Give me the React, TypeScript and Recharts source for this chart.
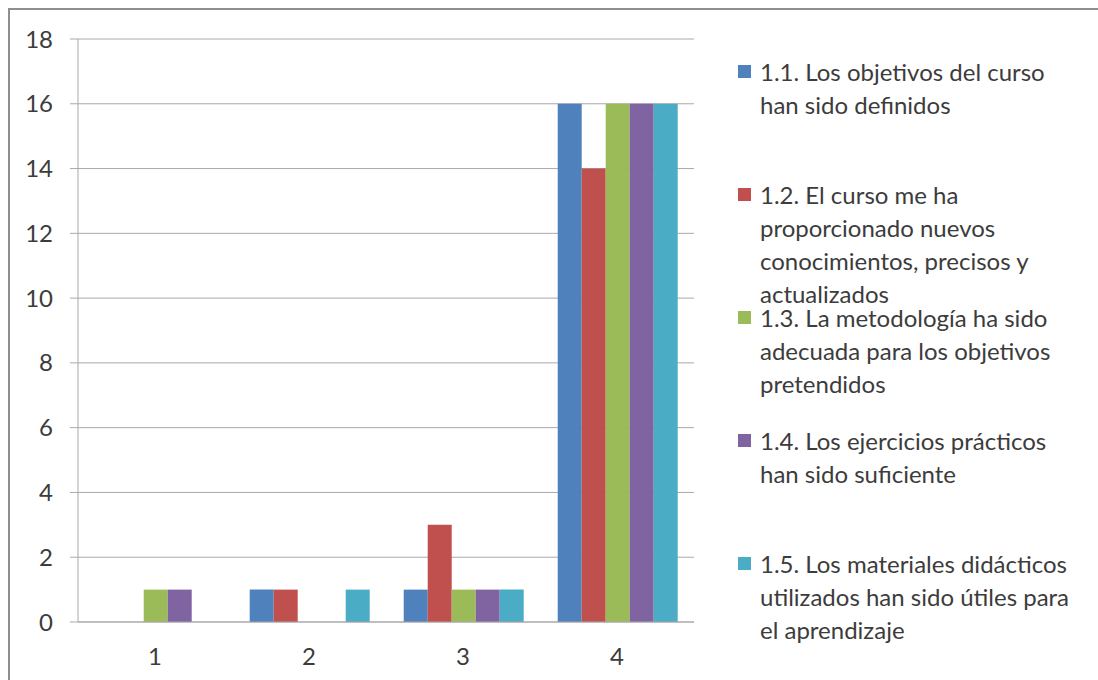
import { Bar, BarChart, CartesianGrid, Legend, XAxis, YAxis } from "recharts";

const categories = ["1", "2", "3", "4"];
const seriesNames = [
  "1.1. Los objetivos del curso\nhan sido definidos",
  "1.2. El curso me ha\nproporcionado nuevos\nconocimientos, precisos y\nactualizados",
  "1.3. La metodología ha sido\nadecuada para los objetivos\npretendidos",
  "1.4. Los ejercicios prácticos\nhan sido suficiente",
  "1.5. Los materiales didácticos\nutilizados han sido útiles para\nel aprendizaje",
];
const objetivos = [0, 1, 1, 16];
const conocimientos = [0, 1, 3, 14];
const metodologia = [1, 0, 1, 16];
const ejercicios = [1, 0, 1, 16];
const materiales = [0, 1, 1, 16];
const yTicks = [0, 2, 4, 6, 8, 10, 12, 14, 16, 18];
const colors = ["#4F81BD", "#C0504D", "#9BBB59", "#8064A2", "#4BACC6"];

const keys = ["s1", "s2", "s3", "s4", "s5"];
const data = categories.map((label, i) => ({
  label,
  s1: objetivos[i],
  s2: conocimientos[i],
  s3: metodologia[i],
  s4: ejercicios[i],
  s5: materiales[i],
}));

const FONT = "Lato, 'Open Sans', sans-serif";
const TEXT = "#3c3c3c";
const GRID = "#a9a9a9";

function LegendBox() {
  return (
    <div style={{ fontFamily: FONT, fontSize: 24, color: TEXT }}>
      {seriesNames.map((name, i) => (
        <div key={name} style={{ display: "flex", height: 123 }}>
          <div
            style={{
              width: 13,
              height: 13,
              marginTop: 10,
              background: colors[i],
              flex: "none",
            }}
          />
          <div style={{ marginLeft: 9, lineHeight: "33px", whiteSpace: "pre" }}>{name}</div>
        </div>
      ))}
    </div>
  );
}

export default function App() {
  return (
    <div
      style={{
        position: "fixed",
        left: 0,
        top: 0,
        width: 1098,
        height: 680,
        overflow: "hidden",
        background: "#fff",
      }}
    >
      <div
        style={{
          position: "absolute",
          left: 8,
          top: 8,
          width: 1200,
          height: 800,
          border: "2px solid #8e8e8e",
        }}
      >
        <BarChart
          width={1090}
          height={670}
          data={data}
          margin={{ top: 29, right: 406, left: 0, bottom: 10 }}
          barCategoryGap="11.5%"
          barGap={0}
          style={{ fontFamily: FONT }}
        >
          <CartesianGrid vertical={false} stroke={GRID} />
          <XAxis
            xAxisId="edges"
            type="number"
            domain={[0, 4]}
            ticks={[0, 1, 2, 3, 4]}
            allowDataOverflow
            height={0}
            axisLine={false}
            tick={false}
            tickSize={8}
            tickLine={{ stroke: GRID }}
          />
          <XAxis
            dataKey="label"
            height={48}
            axisLine={{ stroke: GRID }}
            tickLine={false}
            tickSize={0}
            tickMargin={26}
            tick={{ fill: TEXT, fontSize: 24 }}
          />
          <YAxis
            width={68}
            domain={[0, 18]}
            ticks={yTicks}
            interval={0}
            axisLine={{ stroke: GRID }}
            tickLine={{ stroke: GRID }}
            tickSize={8}
            tickMargin={17}
            tick={{ fill: TEXT, fontSize: 24 }}
          />
          <Legend
            layout="horizontal"
            verticalAlign="middle"
            content={() => <LegendBox />}
            wrapperStyle={{ left: 728, top: 45, width: 360 }}
          />
          {keys.map((k, i) => (
            <Bar
              key={k}
              dataKey={k}
              name={seriesNames[i]}
              fill={colors[i]}
              isAnimationActive={false}
            />
          ))}
        </BarChart>
      </div>
    </div>
  );
}
